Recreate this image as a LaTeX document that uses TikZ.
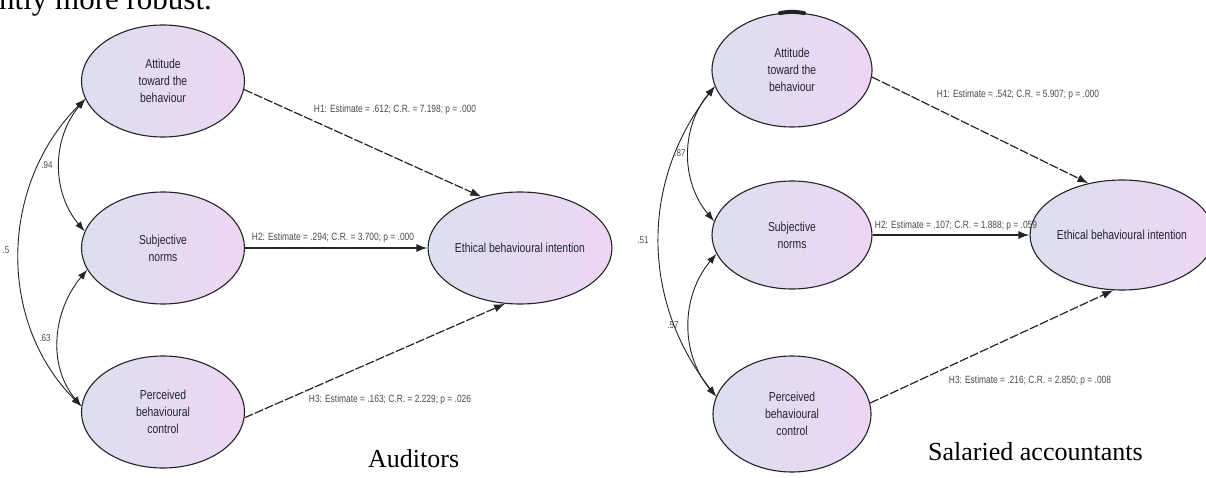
\documentclass[tikz,border=0pt]{standalone}
\usepackage{fontspec}
\setmainfont{Liberation Serif}
\newfontfamily\narrowsans[FakeStretch=0.8]{Liberation Sans}
\usetikzlibrary{shapes.geometric,arrows.meta}

\definecolor{latleft}{RGB}{220,223,238}
\definecolor{latright}{RGB}{238,214,243}
\definecolor{edgegray}{RGB}{35,35,40}
\definecolor{lblgray}{RGB}{75,75,75}
\definecolor{ink}{RGB}{35,35,52}

\tikzset{
  latent/.style={ellipse, draw=edgegray, line width=1.1pt, left color=latleft,
    right color=latright, inner sep=0pt, align=center,
    font=\narrowsans\fontsize{13}{17}\selectfont, text=ink},
  corr/.style={draw=edgegray, line width=0.9pt,
    {Latex[length=10pt,width=7pt]}-{Latex[length=10pt,width=7pt]}},
  hpath/.style={draw=edgegray, line width=1.2pt, -{Latex[length=11pt,width=8pt]}},
  dashpath/.style={hpath, dash pattern=on 9pt off 2pt},
  solidpath/.style={hpath, line width=1.7pt},
  estlabel/.style={font=\narrowsans\fontsize{10.5}{12}\selectfont, text=lblgray, inner sep=0pt},
  corrlabel/.style={font=\narrowsans\fontsize{10}{11}\selectfont, text=lblgray, inner sep=0pt},
  caption/.style={font=\fontsize{26}{30}\selectfont, inner sep=0pt, anchor=base west},
}

\begin{document}
\begin{tikzpicture}[x=1pt,y=1pt]
\useasboundingbox (0,0) rectangle (1206,477);
\fill[white] (0,0) rectangle (1206,477);
\clip (0,0) rectangle (1206,477);

% running text of the page above the figure
\node[font=\fontsize{31}{35}\selectfont, anchor=base west, inner sep=0pt] (pagetext) at (-1,467) {ntly more robust.};

% ---------------- Auditors model ----------------
\node[latent, minimum width=163, minimum height=112] (att) at (163,396) {Attitude\\toward the\\behaviour};
\node[latent, minimum width=163, minimum height=112] (sub) at (163,229) {Subjective\\norms};
\node[latent, minimum width=163, minimum height=112] (per) at (163,65) {Perceived\\behavioural\\control};
\node[latent, minimum width=180, minimum height=112] (eth) at (520,229) {Ethical behavioural intention};

\draw[dashpath] (att.354) -- (eth.127);
\draw[solidpath] (sub.east) -- (eth.west);
\draw[dashpath] (per.356) -- (eth.255);

\draw[corr] (att.193) to[out=230,in=130] (sub.168);
\draw[corr] (sub.196) to[out=230,in=130] (per.176);
\draw[corr] (att.193) to[out=225,in=135] (per.176);

\node[estlabel] (h1a) at (395,367) {H1: Estimate = .612; C.R. = 7.198; p = .000};
\node[estlabel] (h2a) at (333,239) {H2: Estimate = .294; C.R. = 3.700; p = .000};
\node[estlabel] (h3a) at (390,77) {H3: Estimate = .163; C.R. = 2.229; p = .026};

\node[corrlabel] (c1a) at (47,312) {.94};
\node[corrlabel] (c2a) at (45,139) {.63};
\node[corrlabel] (c3a) at (6,227) {.5};

\node[caption] (capa) at (368,10) {Auditors};

% ---------------- Salaried accountants model ----------------
\node[latent, minimum width=160, minimum height=114] (att2) at (792,407) {Attitude\\toward the\\behaviour};
\node[latent, minimum width=160, minimum height=108] (sub2) at (792,242) {Subjective\\norms};
\node[latent, minimum width=158, minimum height=116] (per2) at (792,63) {Perceived\\behavioural\\control};
\node[latent, minimum width=154, minimum height=110] (eth2) at (1122,242) {Ethical behavioural intention};

% heavy stroke on the top of the attitude ellipse
\draw[line width=4pt, edgegray, line cap=round] (att2.78) to[bend right=10] (att2.102);

\draw[dashpath] (att2.355) -- (eth2.123);
\draw[solidpath] (sub2.east) -- (eth2.west);
\draw[dashpath] (per2.8) -- (eth2.261);

\draw[corr] (att2.192) to[out=230,in=130] (sub2.170);
\draw[corr] (sub2.194) to[out=230,in=130] (per2.167);
\draw[corr] (att2.192) to[out=232,in=128] (per2.167);

\node[estlabel] (h1b) at (1018,382) {H1: Estimate = .542; C.R. = 5.907; p = .000};
\node[estlabel] (h2b) at (956,251) {H2: Estimate = .107; C.R. = 1.888; p = .059};
\node[estlabel] (h3b) at (1030,96) {H3: Estimate = .216; C.R. = 2.850; p = .008};

\node[corrlabel] (c1b) at (680,324) {.87};
\node[corrlabel] (c2b) at (673,152) {.57};
\node[corrlabel] (c3b) at (643,237) {.51};

\node[caption] (capb) at (928,17) {Salaried accountants};
\end{tikzpicture}
\end{document}
